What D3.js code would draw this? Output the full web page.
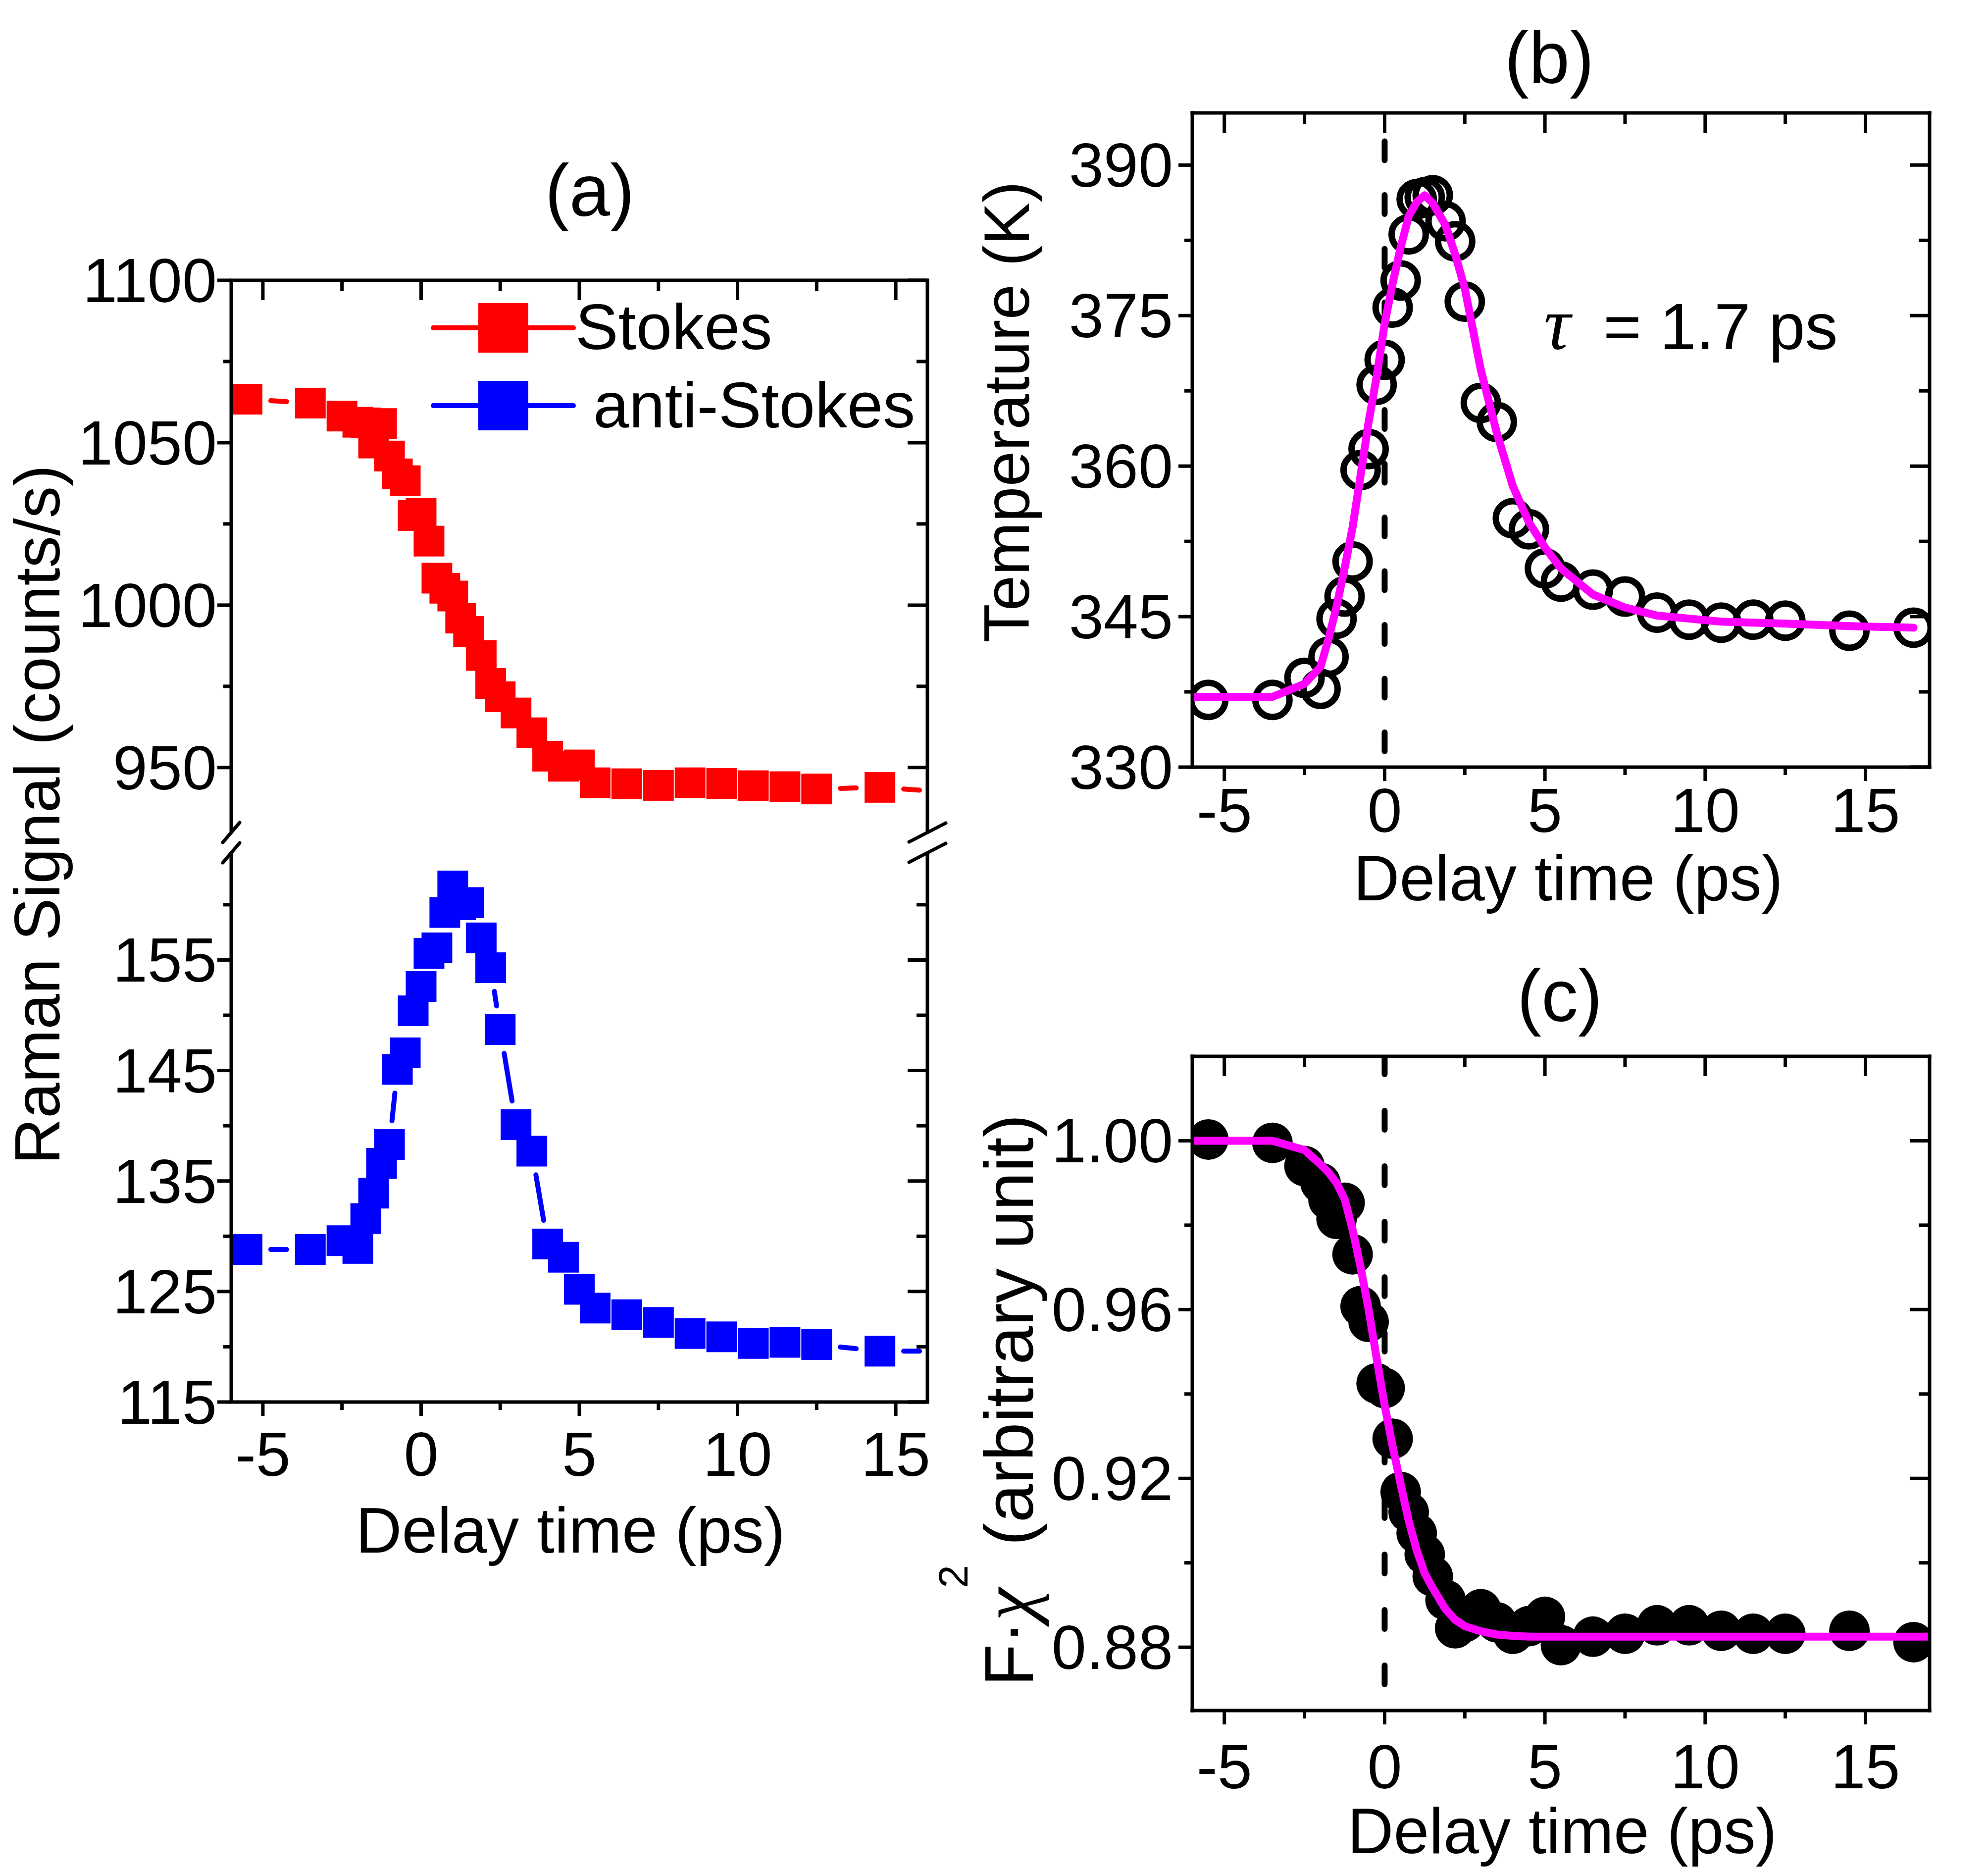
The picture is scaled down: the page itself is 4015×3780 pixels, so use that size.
<!DOCTYPE html>
<html>
<head>
<meta charset="utf-8">
<script src="https://cdn.jsdelivr.net/npm/d3@7/dist/d3.min.js"></script>
<style>
html,body{margin:0;padding:0;background:#fff;}
svg{display:block;}
</style>
</head>
<body>
<svg id="fig" width="4015" height="3780" xmlns="http://www.w3.org/2000/svg"></svg>
<script>
// ---------------- data ----------------
const delayTimes = [-5.5,-3.5,-2.5,-2,-1.75,-1.5,-1.25,-1,-0.75,-0.5,-0.25,0,0.25,0.5,0.75,1,1.25,1.5,1.9,2.2,2.5,3,3.5,4,4.5,5,5.5,6.5,7.5,8.5,9.5,10.5,11.5,12.5,14.5,16.5];
const stokesSignal = [1063.4,1062.2,1058.2,1056.3,1056.1,1049.9,1055.9,1045.9,1040.4,1038.3,1027.6,1028.2,1019.7,1008.3,1005.2,1002.8,996.0,991.9,984.5,975.9,971.8,966.8,960.7,953.5,950.4,950.8,945.3,945.0,944.5,945.3,945.1,944.4,944.1,943.4,943.9,942.5];
const antiStokesSignal = [128.8,128.8,129.6,128.9,131.6,133.9,136.6,138.3,145.1,146.6,150.4,152.6,155.6,156.1,159.3,161.7,160.0,160.2,157.0,154.3,148.7,140.1,137.7,129.3,128.1,125.2,123.5,122.9,122.2,121.2,120.9,120.3,120.4,120.2,119.6,119.6];
const temperature = [336.7,336.7,338.9,337.8,341.0,344.8,347.0,350.5,359.6,361.7,368.1,370.6,375.8,378.5,383.1,386.6,386.8,387.0,384.4,382.4,376.4,366.3,364.4,354.8,353.7,349.8,348.5,347.7,347.0,345.4,344.7,344.4,344.7,344.6,343.6,343.9];
const fitTempTimes = [-6,-5.5,-3.5,-2.5,-2,-1.75,-1.5,-1.25,-1,-0.75,-0.5,-0.25,0,0.25,0.5,0.75,1,1.25,1.5,1.9,2.2,2.5,3,3.5,4,4.5,5,5.5,6.5,7.5,8.5,9.5,10.5,11.5,12.5,14.5,16.5];
const fitTemp = [337.0,337.0,337.0,338.3,340.0,342.8,346.0,349.8,353.9,359.1,364.4,368.9,374.2,378.2,381.8,384.9,386.3,387.0,386.2,384.0,381.1,377.7,369.6,363.3,358.0,354.4,351.9,349.8,347.2,345.9,345.1,344.8,344.5,344.4,344.3,344.05,343.9];
const fchi = [1.0003,0.9995,0.994,0.990,0.986,0.9815,0.9853,0.9731,0.9608,0.9571,0.9425,0.9414,0.9294,0.9168,0.912,0.907,0.902,0.8968,0.8912,0.8845,0.886,0.889,0.8859,0.8832,0.885,0.8872,0.8805,0.8825,0.8832,0.8852,0.8852,0.8839,0.8832,0.8832,0.8839,0.8812];
const fitFchiTimes = [-6,-5.5,-3.5,-2.5,-2,-1.75,-1.5,-1.25,-1,-0.75,-0.5,-0.25,0,0.25,0.5,0.75,1,1.25,1.5,1.9,2.2,2.5,3,3.5,4,4.5,5,5.5,6.5,7.5,8.5,9.5,10.5,11.5,12.5,14.5,16.5,17];
const fitFchi = [1.000,1.000,1.000,0.9978,0.9944,0.9925,0.990,0.9862,0.979,0.970,0.960,0.9485,0.9373,0.9276,0.9186,0.910,0.903,0.8975,0.894,0.889,0.8865,0.885,0.8838,0.883,0.8827,0.8825,0.8825,0.8825,0.8825,0.8825,0.8825,0.8825,0.8825,0.8825,0.8825,0.8825,0.8825,0.8825];
const delayMajorTicks = [-5,0,5,10,15];
const delayMinorTicks = [-2.5,2.5,7.5,12.5];
const stokesMajorTicks = [950,1000,1050,1100];
const stokesMinorTicks = [975,1025,1075];
const antiMajorTicks = [115,125,135,145,155];
const antiMinorTicks = [120,130,140,150,160];
const tempMajorTicks = [330,345,360,375,390];
const tempMinorTicks = [337.5,352.5,367.5,382.5];
const fchiMajorTicks = [0.88,0.92,0.96,1.00];
const fchiMinorTicks = [0.90,0.94,0.98];
const seriesNames = ["Stokes","anti-Stokes"];
const tauValue = "1.7 ps";

// ---------------- drawing ----------------
const svg = d3.select('#fig');
svg.append('rect').attr('width',4015).attr('height',3780).attr('fill','#fff');
const SANS = '"Liberation Sans", Arial, Helvetica, sans-serif';
const SERIF = '"Liberation Serif", "Times New Roman", serif';
const TICK_FS = 126, TITLE_FS = 129, PANEL_FS = 148, LEG_FS = 130;
const AXW = 7;
const RED = '#ff0000', BLUE = '#0000ff', MAG = '#ff00ff';

function ln(g,x1,y1,x2,y2,w,cap){
  return g.append('line').attr('x1',x1).attr('y1',y1).attr('x2',x2).attr('y2',y2)
    .attr('stroke','#000').attr('stroke-width',w||AXW).attr('stroke-linecap',cap||'butt');
}
function txt(g,x,y,s,fs,anchor){
  return g.append('text').attr('x',x).attr('y',y).text(s)
    .attr('font-family',SANS).attr('font-size',fs).attr('text-anchor',anchor||'middle').attr('fill','#000');
}
function xTicks(g,x,yTop,yBot){
  delayMajorTicks.forEach(v=>{ ln(g,x(v),yBot,x(v),yBot+28); ln(g,x(v),yTop,x(v),yTop+40); });
  delayMinorTicks.forEach(v=>{ ln(g,x(v),yBot,x(v),yBot+16); ln(g,x(v),yTop,x(v),yTop+22); });
}
function yTicks(g,y,xL,xR,major,minor){
  major.forEach(v=>{ ln(g,xL,y(v),xL-28,y(v)); ln(g,xR,y(v),xR-40,y(v)); });
  minor.forEach(v=>{ ln(g,xL,y(v),xL-16,y(v)); ln(g,xR,y(v),xR-22,y(v)); });
}
function gapSegments(xs,ys,xS,yS,half,gap){
  const pts = xs.map((t,i)=>[xS(t), yS(ys[i])]);
  const segs=[];
  for(let i=0;i<pts.length-1;i++){
    const [x1,y1]=pts[i],[x2,y2]=pts[i+1];
    const dx=x2-x1, dy=y2-y1, L=Math.hypot(dx,dy);
    const ux=dx/L, uy=dy/L;
    const e = half/Math.max(Math.abs(ux),Math.abs(uy)) + gap;
    if(L-2*e>0) segs.push([x1+ux*e,y1+uy*e,x2-ux*e,y2-uy*e]);
  }
  return segs;
}

// ===== Panel (a) =====
const A = {l:467, r:1873, t:566, b:2831, bkTop:1681, bkBot:1722};
const ax = d3.scaleLinear().domain([-6,16]).range([A.l,A.r]);
const ayTop = d3.scaleLinear().domain([930,1100]).range([A.bkTop,A.t]);
const ayBot = d3.scaleLinear().domain([115,164.7]).range([A.b,A.bkBot]);
const ga = svg.append('g');
svg.append('clipPath').attr('id','clipA').append('rect').attr('x',A.l).attr('y',A.t).attr('width',A.r-A.l).attr('height',A.b-A.t);

const gaData = ga.append('g').attr('clip-path','url(#clipA)');
function drawSeries(vals,yS,color){
  const segs = gapSegments(delayTimes,vals,ax,yS,31,17);
  gaData.append('g').selectAll('line').data(segs).join('line')
    .attr('x1',d=>d[0]).attr('y1',d=>d[1]).attr('x2',d=>d[2]).attr('y2',d=>d[3])
    .attr('stroke',color).attr('stroke-width',10).attr('stroke-linecap','round');
  gaData.append('g').selectAll('rect').data(delayTimes).join('rect')
    .attr('x',(t)=>ax(t)-31).attr('y',(t,i)=>yS(vals[i])-31)
    .attr('width',62).attr('height',62).attr('fill',color);
}
drawSeries(stokesSignal,ayTop,RED);
drawSeries(antiStokesSignal,ayBot,BLUE);

// frame with axis break
ln(ga,A.l,A.t,A.r,A.t,AXW,'square');
ln(ga,A.l,A.b,A.r,A.b,AXW,'square');
[A.l,A.r].forEach(x=>{ ln(ga,x,A.t,x,A.bkTop); ln(ga,x,A.bkBot,x,A.b); });
[[A.l,17,20],[A.r,37,19]].forEach(([x,hx,hy])=>{
  [A.bkTop,A.bkBot].forEach(y=>ln(ga,x-hx,y+hy,x+hx,y-hy,AXW,'round'));
});
xTicks(ga,ax,A.t,A.b);
yTicks(ga,ayTop,A.l,A.r,stokesMajorTicks,stokesMinorTicks);
yTicks(ga,ayBot,A.l,A.r,antiMajorTicks,antiMinorTicks);
stokesMajorTicks.forEach(v=>txt(ga,438,ayTop(v)+44,String(v),TICK_FS,'end'));
antiMajorTicks.forEach(v=>txt(ga,438,ayBot(v)+44,String(v),TICK_FS,'end'));
delayMajorTicks.forEach(v=>txt(ga,ax(v),2980,String(v),TICK_FS,'middle'));
txt(ga,1152,3135,'Delay time (ps)',TITLE_FS,'middle');
ga.append('text').attr('transform','translate(120,1645) rotate(-90)').attr('text-anchor','middle')
  .attr('font-family',SANS).attr('font-size',TITLE_FS).text('Raman Signal (counts/s)');
txt(ga,1191,436,'(a)',PANEL_FS,'middle');

// legend
const leg = [{name:seriesNames[0],c:RED,y:662,tx:1162,ty:705},{name:seriesNames[1],c:BLUE,y:819,tx:1198,ty:863}];
leg.forEach(d=>{
  ga.append('line').attr('x1',875).attr('x2',1158).attr('y1',d.y).attr('y2',d.y)
    .attr('stroke',d.c).attr('stroke-width',10).attr('stroke-linecap','round');
  ga.append('rect').attr('x',966).attr('y',d.y-50).attr('width',101).attr('height',100).attr('fill',d.c);
  txt(ga,d.tx,d.ty,d.name,LEG_FS,'start');
});

// ===== Panel (b) =====
const B = {l:2408, r:3897, t:228, b:1549};
const bx = d3.scaleLinear().domain([-6,17]).range([B.l,B.r]);
const by = d3.scaleLinear().domain([330,395.2]).range([B.b,B.t]);
const gb = svg.append('g');
svg.append('clipPath').attr('id','clipB').append('rect').attr('x',B.l).attr('y',B.t).attr('width',B.r-B.l).attr('height',B.b-B.t);
const gbData = gb.append('g').attr('clip-path','url(#clipB)');
gbData.append('line').attr('x1',bx(0)).attr('x2',bx(0)).attr('y1',B.t).attr('y2',B.b)
  .attr('stroke','#000').attr('stroke-width',12).attr('stroke-dasharray','38,70.5').attr('stroke-dashoffset',-57.5).attr('stroke-linecap','round');
gbData.append('g').selectAll('circle').data(delayTimes).join('circle')
  .attr('cx',t=>bx(t)).attr('cy',(t,i)=>by(temperature[i])).attr('r',34.5)
  .attr('fill','none').attr('stroke','#000').attr('stroke-width',13);
gbData.append('path').datum(fitTempTimes.map((t,i)=>[t,fitTemp[i]]))
  .attr('d',d3.line().x(d=>bx(d[0])).y(d=>by(d[1])))
  .attr('fill','none').attr('stroke',MAG).attr('stroke-width',16).attr('stroke-linejoin','round').attr('stroke-linecap','round');
ln(gb,B.l,B.t,B.r,B.t,AXW,'square'); ln(gb,B.l,B.b,B.r,B.b,AXW,'square');
ln(gb,B.l,B.t,B.l,B.b,AXW,'square'); ln(gb,B.r,B.t,B.r,B.b,AXW,'square');
xTicks(gb,bx,B.t,B.b);
yTicks(gb,by,B.l,B.r,tempMajorTicks,tempMinorTicks);
tempMajorTicks.forEach(v=>txt(gb,2369,by(v)+44,String(v),TICK_FS,'end'));
delayMajorTicks.forEach(v=>txt(gb,bx(v),1680,String(v),TICK_FS,'middle'));
txt(gb,3167,1818,'Delay time (ps)',TITLE_FS,'middle');
gb.append('text').attr('transform','translate(2078,832) rotate(-90)').attr('text-anchor','middle')
  .attr('font-family',SANS).attr('font-size',TITLE_FS).text('Temperature (K)');
txt(gb,3129,168,'(b)',PANEL_FS,'middle');
gb.append('text').attr('x',3118).attr('y',705).attr('font-family',SERIF).attr('font-style','italic')
  .attr('font-size',150).text('\u03c4');
txt(gb,3238,705,'=',132,'start');
txt(gb,3352,705,tauValue,132,'start');

// ===== Panel (c) =====
const C = {l:2408, r:3897, t:2133, b:3454};
const cx = d3.scaleLinear().domain([-6,17]).range([C.l,C.r]);
const cy = d3.scaleLinear().domain([0.865,1.02]).range([C.b,C.t]);
const gc = svg.append('g');
svg.append('clipPath').attr('id','clipC').append('rect').attr('x',C.l).attr('y',C.t).attr('width',C.r-C.l).attr('height',C.b-C.t);
const gcData = gc.append('g').attr('clip-path','url(#clipC)');
gcData.append('line').attr('x1',cx(0)).attr('x2',cx(0)).attr('y1',C.t).attr('y2',C.b)
  .attr('stroke','#000').attr('stroke-width',12).attr('stroke-dasharray','38,74').attr('stroke-dashoffset',2).attr('stroke-linecap','round');
gcData.append('g').selectAll('circle').data(delayTimes).join('circle')
  .attr('cx',t=>cx(t)).attr('cy',(t,i)=>cy(fchi[i])).attr('r',41).attr('fill','#000');
gcData.append('path').datum(fitFchiTimes.map((t,i)=>[t,fitFchi[i]]))
  .attr('d',d3.line().x(d=>cx(d[0])).y(d=>cy(d[1])))
  .attr('fill','none').attr('stroke',MAG).attr('stroke-width',16).attr('stroke-linejoin','round');
ln(gc,C.l,C.t,C.r,C.t,AXW,'square'); ln(gc,C.l,C.b,C.r,C.b,AXW,'square');
ln(gc,C.l,C.t,C.l,C.b,AXW,'square'); ln(gc,C.r,C.t,C.r,C.b,AXW,'square');
xTicks(gc,cx,C.t,C.b);
yTicks(gc,cy,C.l,C.r,fchiMajorTicks,fchiMinorTicks);
fchiMajorTicks.forEach(v=>txt(gc,2369,cy(v)+44,v.toFixed(2),TICK_FS,'end'));
delayMajorTicks.forEach(v=>txt(gc,cx(v),3611,String(v),TICK_FS,'middle'));
txt(gc,3155,3742,'Delay time (ps)',TITLE_FS,'middle');
const yl = gc.append('text').attr('transform','translate(2086,3405) rotate(-90)').attr('text-anchor','start')
  .attr('font-family',SANS).attr('font-size',140);
yl.append('tspan').text('F\u00b7');
yl.append('tspan').attr('font-family',SERIF).attr('font-style','italic').attr('font-size',150).text('\u03c7');
yl.append('tspan').attr('font-size',84).attr('dy',-132).text('2');
yl.append('tspan').attr('dy',132).text(' (arbitrary unit)');
txt(gc,3150,2062,'(c)',PANEL_FS,'middle');
</script>
</body>
</html>
